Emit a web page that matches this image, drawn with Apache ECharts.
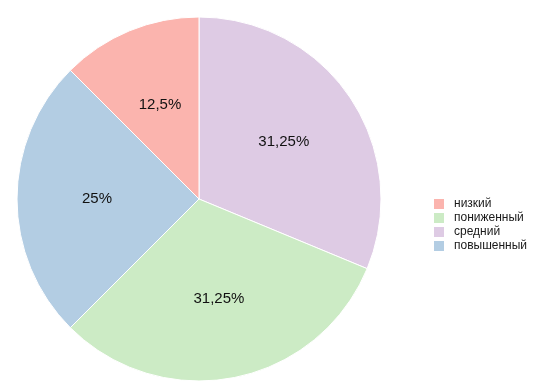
<!DOCTYPE html>
<html><head><meta charset="utf-8">
<script src="https://cdn.jsdelivr.net/npm/echarts@6/dist/echarts.min.js"></script>
<style>html,body{margin:0;padding:0;background:#fff}#c{width:540px;height:388px}</style>
</head><body><div id="c"></div>
<script>
const categories = ['средний', 'пониженный', 'повышенный', 'низкий'];
const values = [5, 5, 4, 2];
const legendOrder = ['низкий', 'пониженный', 'средний', 'повышенный'];
const colors = {'низкий':'#FBB4AE','пониженный':'#CCEBC5','средний':'#DECBE4','повышенный':'#B3CDE3'};
const total = values.reduce((a,b)=>a+b,0);
const data = categories.map((c,i)=>({name:c,value:values[i],itemStyle:{color:colors[c]}}));
const fmt = p => (Math.round(p.value/total*10000)/100).toString().replace('.', ',') + '%';
const chart = echarts.init(document.getElementById('c'));
chart.setOption({
  animation:false,
  legend:{orient:'vertical',left:432,top:197,itemWidth:12,itemHeight:12,itemGap:0,padding:0,
    data:legendOrder,icon:'rect',
    textStyle:{fontSize:12,lineHeight:13.5,color:'#1a1a1a',fontFamily:'Liberation Sans, Arial, sans-serif',padding:[0,0,0,4]}},
  series:[
    {type:'pie',center:[199,199],radius:[0,182],startAngle:90,clockwise:true,
     data:data,label:{show:false},labelLine:{show:false},
     itemStyle:{borderColor:'#fff',borderWidth:1},emphasis:{disabled:true}},
    {type:'pie',center:[199,199],radius:[0,198],startAngle:90,clockwise:true,silent:true,
     data:categories.map((c,i)=>({name:c,value:values[i]})),
     itemStyle:{color:'rgba(0,0,0,0)'},
     label:{show:true,position:'inside',formatter:fmt,fontSize:15,color:'#111',fontFamily:'Liberation Sans, Arial, sans-serif'},
     labelLine:{show:false},emphasis:{disabled:true}}
  ]
});
</script></body></html>
